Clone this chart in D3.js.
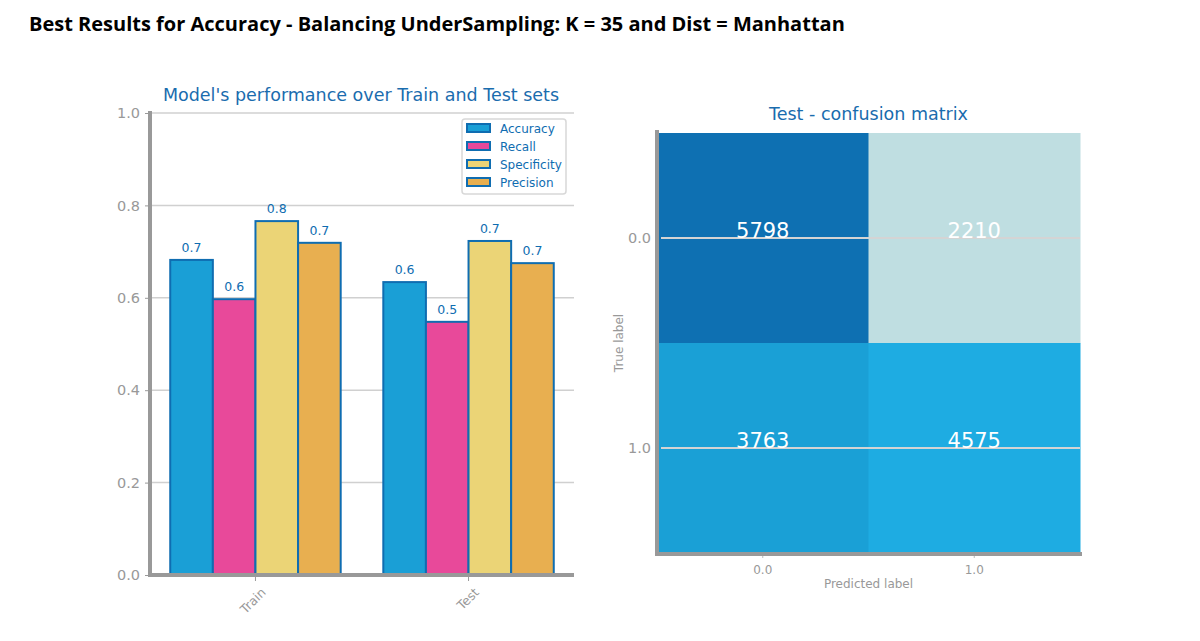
<!DOCTYPE html>
<html>
<head>
<meta charset="utf-8">
<script src="https://cdn.jsdelivr.net/npm/d3@7"></script>
<style>
  body { margin: 0; background: #fff; }
  svg text { font-family: "DejaVu Sans", sans-serif; }
</style>
</head>
<body>
<div id="chart"></div>
<script>
// chart values
var sets = ["Train", "Test"];
var metrics = ["Accuracy", "Recall", "Specificity", "Precision"];
var trainScores = [0.682, 0.597, 0.766, 0.719];
var testScores = [0.634, 0.548, 0.723, 0.675];
var yTicks = [0.0, 0.2, 0.4, 0.6, 0.8, 1.0];
var cmLabels = ["0.0", "1.0"];
var cmValues = [[5798, 2210], [3763, 4575]];

var metricColors = ["#1a9fd6", "#e8499a", "#ebd476", "#e8af50"];
var edgeBlue = "#0f6db1";
var titleBlue = "#1a6cae";
var gray = "#999999";

var svg = d3.select("#chart").append("svg")
    .attr("width", 1200)
    .attr("height", 641);

svg.append("text")
    .attr("x", 29).attr("y", 31)
    .style("font-family", "'Open Sans', 'Noto Sans', sans-serif")
    .style("font-weight", "bold")
    .style("font-size", "20px")
    .attr("fill", "#000")
    .text("Best Results for Accuracy - Balancing UnderSampling: K = 35 and Dist = Manhattan");

// ---- left: bar chart
var left = {x0: 150, x1: 574, y0: 113, y1: 575};
var x = d3.scaleLinear().domain([-0.495, 1.495]).range([left.x0, left.x1]);
var y = d3.scaleLinear().domain([0, 1]).range([left.y1, left.y0]);
var barW = x(0.2) - x(0);

var g1 = svg.append("g");

g1.append("text")
    .attr("x", (left.x0 + left.x1) / 2 - 1).attr("y", 101)
    .attr("text-anchor", "middle")
    .attr("fill", titleBlue)
    .style("font-size", "17.5px")
    .text("Model's performance over Train and Test sets");

// grid
g1.selectAll("line.grid").data(yTicks.slice(1)).enter().append("line")
    .attr("class", "grid")
    .attr("x1", left.x0).attr("x2", left.x1)
    .attr("y1", d => y(d)).attr("y2", d => y(d))
    .attr("stroke", "#d0d0d0").attr("stroke-width", 1.5);

var yAxis = d3.axisLeft(y).tickValues(yTicks).tickFormat(d3.format(".1f")).tickSize(5).tickPadding(5);
var ya = g1.append("g").attr("transform", "translate(" + left.x0 + ",0)").call(yAxis);
ya.select(".domain").remove();
ya.selectAll("line").attr("stroke", gray);
ya.selectAll("text").attr("fill", gray).style("font-size", "14.5px");

var scores = [trainScores, testScores];
var bars = [];
scores.forEach(function(s, i) {
  s.forEach(function(v, j) { bars.push({set: i, m: j, v: v}); });
});

g1.selectAll("rect.bar").data(bars).enter().append("rect")
    .attr("class", "bar")
    .attr("x", d => x(d.set + (d.m - 2) * 0.2))
    .attr("y", d => y(d.v))
    .attr("width", barW)
    .attr("height", d => y(0) - y(d.v))
    .attr("fill", d => metricColors[d.m])
    .attr("stroke", edgeBlue).attr("stroke-width", 2);

g1.selectAll("text.val").data(bars).enter().append("text")
    .attr("class", "val")
    .attr("x", d => x(d.set + (d.m - 2) * 0.2 + 0.1))
    .attr("y", d => y(d.v) - 8)
    .attr("text-anchor", "middle")
    .attr("fill", edgeBlue)
    .style("font-size", "12.5px")
    .text(d => d3.format(".1f")(d.v));

// spines
g1.append("line").attr("x1", left.x0).attr("x2", left.x0).attr("y1", left.y0 - 2).attr("y2", left.y1 + 2)
    .attr("stroke", gray).attr("stroke-width", 4);
g1.append("line").attr("x1", left.x0 - 2).attr("x2", left.x1).attr("y1", left.y1).attr("y2", left.y1)
    .attr("stroke", gray).attr("stroke-width", 4);

// x ticks
var xt = g1.selectAll("g.xt").data(sets).enter().append("g").attr("class", "xt")
    .attr("transform", (d, i) => "translate(" + x(i) + "," + left.y1 + ")");
xt.append("line").attr("y1", 2).attr("y2", 6).attr("stroke", gray);
xt.append("text")
    .attr("transform", "translate(5,12) rotate(-45)")
    .attr("text-anchor", "end")
    .attr("dy", "0.7em")
    .attr("fill", gray)
    .style("font-size", "12.5px")
    .text(d => d);

// legend
var lg = g1.append("g").attr("transform", "translate(462,119)");
lg.append("rect").attr("width", 104).attr("height", 75).attr("rx", 3)
    .attr("fill", "#fff").attr("stroke", "#d8d8d8").attr("stroke-width", 1.5);
var li = lg.selectAll("g.li").data(metrics).enter().append("g").attr("class", "li")
    .attr("transform", (d, i) => "translate(5," + (5 + i * 18) + ")");
li.append("rect").attr("width", 23).attr("height", 8)
    .attr("fill", (d, i) => metricColors[i]).attr("stroke", edgeBlue).attr("stroke-width", 2);
li.append("text").attr("x", 33).attr("y", 8.5)
    .attr("fill", edgeBlue).style("font-size", "12px").text(d => d);

// ---- right: confusion matrix
var cm = {x0: 657, x1: 1080, y0: 133, y1: 553};
var cx = d3.scaleBand().domain(cmLabels).range([cm.x0, cm.x1]);
var cy = d3.scaleBand().domain(cmLabels).range([cm.y0, cm.y1]);
var flat = [];
cmValues.forEach(function(row, i) {
  row.forEach(function(v, j) { flat.push({r: i, c: j, v: v}); });
});
var color = d3.scaleLinear()
    .domain([2210, 3763, 4575, 5798])
    .range(["#bfdee1", "#1aa0d6", "#1eace2", "#0e70b2"]);

var g2 = svg.append("g");
g2.append("text")
    .attr("x", (cm.x0 + cm.x1) / 2).attr("y", 120)
    .attr("text-anchor", "middle")
    .attr("fill", titleBlue)
    .style("font-size", "17.5px")
    .text("Test - confusion matrix");

g2.selectAll("rect.cell").data(flat).enter().append("rect")
    .attr("class", "cell")
    .attr("x", d => cx(cmLabels[d.c]))
    .attr("y", d => cy(cmLabels[d.r]))
    .attr("width", cx.bandwidth() + 0.5)
    .attr("height", cy.bandwidth() + 0.5)
    .attr("fill", d => color(d.v));

// horizontal grid lines through the rows
g2.selectAll("line.cg").data(cmLabels).enter().append("line")
    .attr("class", "cg")
    .attr("x1", cm.x0 + 4).attr("x2", cm.x1)
    .attr("y1", d => cy(d) + cy.bandwidth() / 2).attr("y2", d => cy(d) + cy.bandwidth() / 2)
    .attr("stroke", "#d4d4d4").attr("stroke-width", 2);

g2.selectAll("text.cv").data(flat).enter().append("text")
    .attr("class", "cv")
    .attr("x", d => cx(cmLabels[d.c]) + cx.bandwidth() / 2)
    .attr("y", d => cy(cmLabels[d.r]) + cy.bandwidth() / 2)
    .attr("text-anchor", "middle")
    .attr("fill", "#fff")
    .style("font-size", "21px")
    .text(d => d.v);

// y tick labels
g2.selectAll("text.cyt").data(cmLabels).enter().append("text")
    .attr("class", "cyt")
    .attr("x", cm.x0 - 6)
    .attr("y", d => cy(d) + cy.bandwidth() / 2)
    .attr("dy", "0.35em")
    .attr("text-anchor", "end")
    .attr("fill", gray)
    .style("font-size", "14.5px")
    .text(d => d);

// x tick labels
var cxt = g2.selectAll("g.cxt").data(cmLabels).enter().append("g").attr("class", "cxt")
    .attr("transform", d => "translate(" + (cx(d) + cx.bandwidth() / 2) + "," + cm.y1 + ")");
cxt.append("line").attr("y1", 1).attr("y2", 5).attr("stroke", "#bbb");
cxt.append("text").attr("y", 21).attr("text-anchor", "middle")
    .attr("fill", gray).style("font-size", "12px").text(d => d);

g2.append("text")
    .attr("x", (cm.x0 + cm.x1) / 2).attr("y", 588)
    .attr("text-anchor", "middle")
    .attr("fill", gray).style("font-size", "12px")
    .text("Predicted label");

g2.append("text")
    .attr("transform", "translate(623," + ((cm.y0 + cm.y1) / 2) + ") rotate(-90)")
    .attr("text-anchor", "middle")
    .attr("fill", gray).style("font-size", "12px")
    .text("True label");

// spines
g2.append("line").attr("x1", cm.x0).attr("x2", cm.x0).attr("y1", cm.y0 - 3).attr("y2", cm.y1 + 2)
    .attr("stroke", gray).attr("stroke-width", 4);
g2.append("line").attr("x1", cm.x0 - 2).attr("x2", cm.x1 + 2).attr("y1", cm.y1 + 1).attr("y2", cm.y1 + 1)
    .attr("stroke", gray).attr("stroke-width", 4);
</script>
</body>
</html>
